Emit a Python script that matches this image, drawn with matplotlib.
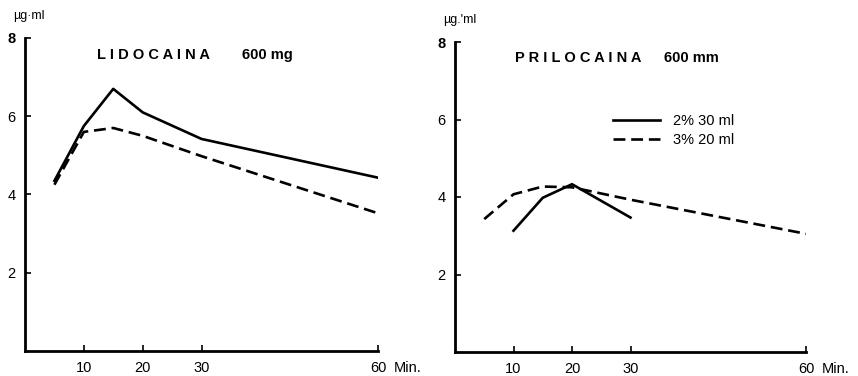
import matplotlib
matplotlib.use("Agg")
import matplotlib.pyplot as plt
from matplotlib.transforms import offset_copy

# Data
time_lido = [5, 10, 15, 20, 30, 60]
lido_2pct = [4.35, 5.75, 6.7, 6.1, 5.42, 4.43]
lido_3pct = [4.25, 5.6, 5.7, 5.5, 4.98, 3.52]

time_prilo_2 = [10, 15, 20, 30]
prilo_2pct = [3.13, 3.98, 4.33, 3.47]
time_prilo_3 = [5, 10, 15, 20, 30, 60]
prilo_3pct = [3.43, 4.07, 4.27, 4.25, 3.93, 3.05]

x_ticks = [10, 20, 30, 60]
x_ticklabels = ["10", "20", "30", "60"]
y_ticks = [2, 4, 6, 8]
y_ticklabels = ["2", "4", "6", "8"]
legend_labels = ["2% 30 ml", "3% 20 ml"]

plt.rcParams['font.family'] = ['Liberation Sans', 'DejaVu Sans']

fig = plt.figure(figsize=(8.58, 3.76), dpi=100)
ax1 = fig.add_axes([25/858, 1-351/376, 353/858, (351-38)/376])
ax2 = fig.add_axes([455/858, 1-352/376, 351/858, (352-42)/376])

dash = (0, (4.5, 2.2))
LW = 1.9

def style(ax, ylab):
    ax.set_xlim(0, 60)
    ax.set_ylim(0, 8)
    for s in ['top', 'right']:
        ax.spines[s].set_visible(False)
    for s in ['left', 'bottom']:
        ax.spines[s].set_linewidth(2)
    ax.set_xticks(x_ticks)
    ax.set_xticklabels(x_ticklabels, fontsize=10.5)
    ax.set_yticks(y_ticks)
    ax.set_yticklabels(y_ticklabels, fontsize=10.5)
    ax.tick_params(axis='both', direction='in', length=4, width=1.2, pad=7)
    ax.get_yticklabels()[-1].set_fontweight('bold')
    ax.text(60, 0, "Min.", transform=offset_copy(ax.transData, fig=fig, x=11, y=-7, units='points'),
            ha='left', va='top', fontsize=10.5)
    ax.text(-0.035, 1.05, ylab, transform=ax.transAxes, fontsize=9, ha='left', va='bottom')

ax1.plot(time_lido, lido_2pct, color='black', lw=LW)
ax1.plot(time_lido, lido_3pct, color='black', lw=LW, linestyle=dash)
style(ax1, "µg·ml")
ax1.text(0.205, 0.945, "L I D O C A I N A", transform=ax1.transAxes, fontsize=10.5, fontweight='bold', va='center')
ax1.text(0.615, 0.945, "600 mg", transform=ax1.transAxes, fontsize=10.5, fontweight='bold', va='center')

l1, = ax2.plot(time_prilo_2, prilo_2pct, color='black', lw=LW)
l2, = ax2.plot(time_prilo_3, prilo_3pct, color='black', lw=LW, linestyle=dash)
style(ax2, "µg.'ml")
ax2.text(0.17, 0.95, "P R I L O C A I N A", transform=ax2.transAxes, fontsize=10.5, fontweight='bold', va='center')
ax2.text(0.595, 0.95, "600 mm", transform=ax2.transAxes, fontsize=10.5, fontweight='bold', va='center')
ax2.legend([l1, l2], legend_labels, loc='upper left', bbox_to_anchor=(0.43, 0.79), frameon=False,
           fontsize=10.5, handlelength=3.2, handletextpad=0.9, labelspacing=0.3, borderpad=0)

fig.savefig("out.png", dpi=100)
